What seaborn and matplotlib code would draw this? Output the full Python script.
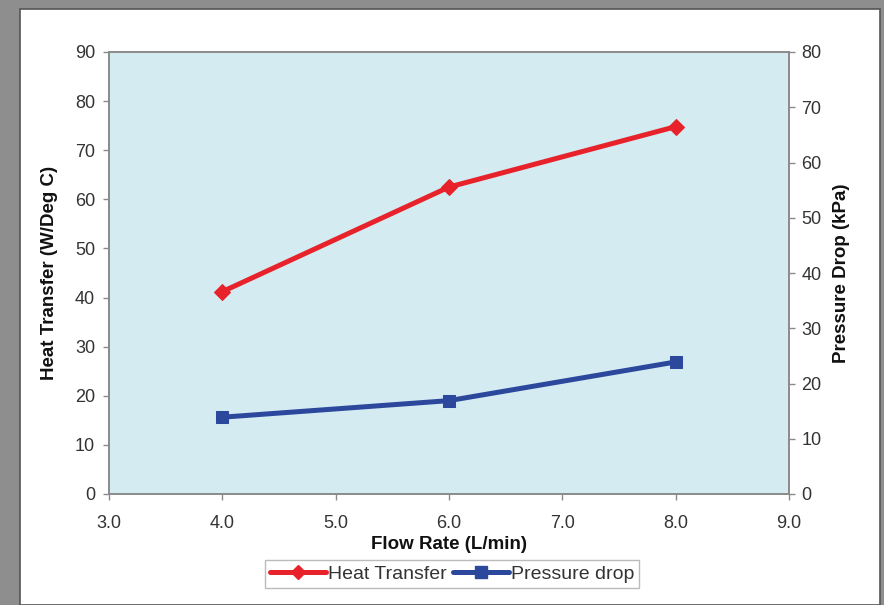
import numpy as np
import pandas as pd
import matplotlib
matplotlib.use('Agg')
import matplotlib.pyplot as plt
import seaborn as sns
from matplotlib.patches import Rectangle
from matplotlib.lines import Line2D

# data
flow_rate = [4.0, 6.0, 8.0]
heat_transfer = [41.2, 62.5, 74.8]
pressure_drop = [13.9, 16.9, 23.9]

red = '#E8222B'
blue = '#2C489C'

sns.set_style('white')
plt.rcParams['font.family'] = ['Liberation Sans', 'DejaVu Sans']

df = pd.DataFrame({'flow': flow_rate, 'heat': heat_transfer, 'dp': pressure_drop})

fig = plt.figure(figsize=(8.84, 6.05), dpi=100, facecolor='#8e8e8e')
# white chart panel inside the grey frame
panel = Rectangle((20 / 884, 0), 860 / 884, 1 - 9 / 605, transform=fig.transFigure,
                  facecolor='white', edgecolor='#555555', linewidth=1.2, zorder=-10)
fig.patches.append(panel)

ax = fig.add_axes([109 / 884, 1 - 494 / 605, 680 / 884, 442 / 605])
ax.set_facecolor('#D3EBF1')
ax2 = ax.twinx()

sns.lineplot(data=df, x='flow', y='heat', ax=ax, color=red, linewidth=3.6,
             marker='D', markersize=8, markeredgecolor=red, legend=False)
sns.lineplot(data=df, x='flow', y='dp', ax=ax2, color=blue, linewidth=3.6,
             marker='s', markersize=9, markeredgecolor=blue, legend=False)

ax.set_xlim(3.0, 9.0)
ax.set_ylim(0, 90)
ax2.set_ylim(0, 80)
ax.set_xticks(np.arange(3.0, 9.01, 1.0))
ax.set_xticklabels([f'{v:.1f}' for v in np.arange(3.0, 9.01, 1.0)])
ax.set_yticks(range(0, 91, 10))
ax2.set_yticks(range(0, 81, 10))

for a in (ax, ax2):
    for s in a.spines.values():
        s.set_color('#8a8a8a')
        s.set_linewidth(1.2)

ax.tick_params(axis='x', direction='out', length=4, width=1, color='#8a8a8a',
               pad=11, labelsize=13, labelcolor='#333333', bottom=True)
ax.tick_params(axis='y', direction='out', length=4, width=1, color='#8a8a8a',
               pad=6, labelsize=13, labelcolor='#333333', left=True)
ax2.tick_params(axis='y', direction='out', length=4, width=1, color='#8a8a8a',
                pad=5, labelsize=13, labelcolor='#333333', right=True)

ax.set_xlabel('Flow Rate (L/min)', fontsize=13.5, fontweight='bold', color='#111111', labelpad=3)
ax.set_ylabel('Heat Transfer (W/Deg C)', fontsize=13.5, fontweight='bold', color='#111111', labelpad=12)
ax2.set_ylabel('Pressure Drop (kPa)', fontsize=13.5, fontweight='bold', color='#111111', labelpad=8)

handles = [Line2D([], [], color=red, linewidth=3.6, marker='D', markersize=7),
           Line2D([], [], color=blue, linewidth=3.6, marker='s', markersize=8)]
leg = fig.legend(handles, ['Heat Transfer', 'Pressure drop'], loc='center',
                 bbox_to_anchor=(452 / 884, 1 - 574 / 605), ncol=2, fontsize=14,
                 frameon=True, fancybox=False, edgecolor='#aaaaaa', handlelength=2.9,
                 handletextpad=0.1, columnspacing=0.3, borderpad=0.25, borderaxespad=0)
leg.get_frame().set_linewidth(1.0)
for t in leg.get_texts():
    t.set_color('#333333')

fig.savefig('out.png', dpi=100, facecolor=fig.get_facecolor())
